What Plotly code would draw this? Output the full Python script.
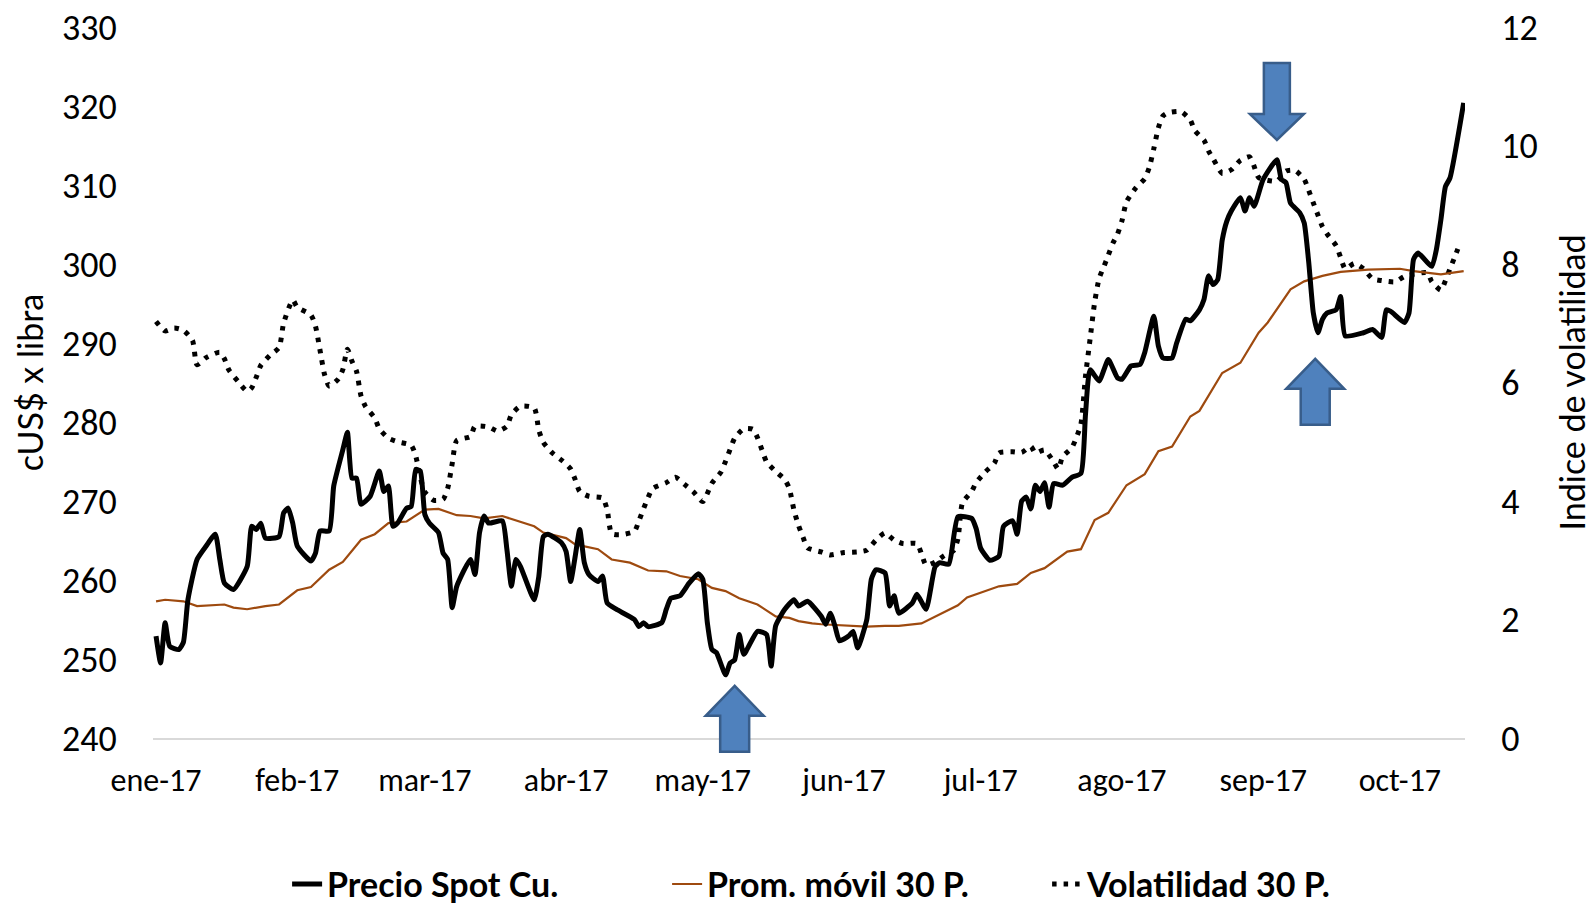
import plotly.graph_objects as go

# Precio spot del cobre (cUS$ por libra), 2017
precio_fechas = ["2017-" + d for d in """
01-02 01-03 01-04 01-05 01-07 01-08 01-09 01-11 01-13 01-15 01-16 01-17 01-19 01-22 01-23 01-24 01-25 01-26 01-29 01-30
01-31 02-01 02-02 02-05 02-06 02-07 02-09 02-10 02-12 02-13 02-14 02-15 02-16 02-18 02-20 02-21 02-22 02-23 02-24 02-26
02-27 02-28 03-01 03-02 03-03 03-05 03-06 03-07 03-08 03-09 03-12 03-13 03-14 03-15 03-16 03-19 03-20 03-21 03-22 03-23
03-26 03-27 03-28 03-29 04-01 04-02 04-03 04-04 04-05 04-06 04-07 04-09 04-10 04-11 04-13 04-17 04-18 04-19 04-20 04-23
04-24 04-25 04-27 04-29 05-01 05-02 05-03 05-04 05-05 05-07 05-08 05-09 05-10 05-11 05-14 05-16 05-17 05-18 05-20 05-22
05-23 05-25 05-28 05-29 05-30 05-31 06-01 06-03 06-04 06-05 06-07 06-08 06-09 06-11 06-12 06-13 06-14 06-17 06-18 06-20
06-22 06-23 06-25 06-27 06-30 07-01 07-02 07-04 07-06 07-07 07-09 07-10 07-11 07-12 07-13 07-14 07-15 07-16 07-17 07-18
07-20 07-22 07-24 07-25 07-26 07-28 07-30 08-01 08-02 08-04 08-06 08-07 08-09 08-10 08-11 08-13 08-14 08-16 08-17 08-19
08-20 08-21 08-22 08-23 08-24 08-25 08-26 08-28 08-29 08-30 08-31 09-02 09-05 09-06 09-07 09-08 09-10 09-11 09-12 09-13
09-14 09-15 09-16 09-18 09-19 09-20 09-24 09-26 09-28 09-29 09-30 10-03 10-04 10-05 10-06 10-09 10-10 10-11 10-12 10-13
10-16""".split()]
precio = [
    252.9, 249.5, 254.6, 251.6, 251.2, 252.1, 257.5, 262.6, 264.3, 265.8, 262.6, 259.6, 258.8, 261.7, 266.8, 266.4, 267.2, 265.3, 265.5, 268.5,
    269.1, 267.2, 264.3, 262.4, 263.4, 266.2, 266.2, 271.9, 276.5, 278.7, 272.9, 272.9, 269.6, 270.6, 273.8, 271.2, 271.9, 266.8, 267.2, 269.1,
    269.3, 274.0, 273.8, 268.3, 267.2, 266.0, 263.4, 262.6, 256.5, 259.2, 262.6, 260.7, 266.0, 268.1, 267.2, 267.5, 263.9, 259.2, 262.6, 261.7,
    257.5, 260.4, 265.5, 265.8, 264.7, 263.6, 259.8, 263.0, 266.4, 262.2, 260.7, 259.8, 260.5, 257.1, 256.3, 255.0, 254.1, 254.6, 254.1, 254.6,
    256.3, 257.7, 258.0, 259.6, 260.8, 260.1, 254.6, 251.2, 250.8, 248.0, 249.5, 249.9, 253.1, 250.6, 253.5, 253.1, 249.1, 254.2, 256.3, 257.5,
    256.7, 257.3, 255.4, 254.4, 255.8, 254.2, 252.3, 252.9, 253.5, 251.4, 255.0, 260.1, 261.3, 260.9, 256.7, 258.0, 255.8, 257.1, 258.2, 256.3,
    261.7, 262.2, 262.0, 268.0, 267.8, 266.5, 264.0, 262.5, 263.0, 266.8, 267.5, 265.8, 270.0, 270.5, 269.0, 272.0, 271.2, 272.3, 269.2, 272.2,
    272.0, 273.0, 273.5, 281.0, 286.6, 285.2, 287.9, 285.6, 285.4, 287.1, 287.3, 288.8, 293.4, 289.6, 288.1, 288.1, 290.0, 293.0, 292.8, 294.2,
    295.5, 298.5, 297.4, 298.0, 303.0, 305.4, 306.7, 308.4, 306.7, 308.4, 307.3, 310.7, 313.2, 310.7, 310.3, 307.7, 306.5, 305.2, 300.2, 293.8,
    291.3, 293.0, 293.8, 294.2, 295.9, 290.9, 291.3, 291.7, 290.7, 294.2, 294.0, 292.6, 293.8, 300.6, 301.4, 299.7, 301.8, 305.6, 309.8, 310.9,
    320.4,
]

# Promedio movil 30 periodos
prom_fechas = ["2017-" + d for d in """
01-02 01-04 01-08 01-11 01-17 01-19 01-22 01-26 01-29 02-02 02-05 02-09 02-12 02-16 02-19 02-22 02-26 03-02 03-05 03-09
03-12 03-15 03-19 03-23 03-26 03-28 04-02 04-04 04-09 04-12 04-16 04-20 04-24 04-27 05-01 05-04 05-07 05-10 05-14 05-18
05-21 05-23 05-26 05-28 06-04 06-07 06-11 06-14 06-19 06-23 06-27 06-29 07-06 07-10 07-13 07-16 07-21 07-24 07-27 07-30
08-03 08-07 08-10 08-13 08-17 08-19 08-24 08-28 09-01 09-03 09-08 09-11 09-15 09-19 09-25 10-02 10-05 10-11 10-16""".split()]
prom_movil = [
    257.3, 257.5, 257.3, 256.7, 256.9, 256.5, 256.3, 256.7, 256.9, 258.7, 259.1, 261.3, 262.3, 265.1, 265.8, 267.2, 267.4, 268.9, 269.0, 268.2,
    268.1, 267.8, 268.1, 267.4, 266.8, 266.0, 265.3, 264.5, 263.9, 262.6, 262.2, 261.2, 261.1, 260.5, 260.1, 259.0, 258.6, 257.7, 256.9, 255.4,
    255.2, 254.8, 254.5, 254.4, 254.2, 254.1, 254.2, 254.2, 254.5, 255.6, 256.8, 257.8, 259.2, 259.5, 260.9, 261.5, 263.6, 263.9, 267.6, 268.5,
    272.0, 273.4, 276.3, 276.9, 280.7, 281.4, 286.2, 287.5, 291.3, 292.6, 296.8, 297.8, 298.5, 299.0, 299.3, 299.4, 299.1, 298.7, 299.1,
]

# Volatilidad 30 periodos (eje derecho)
vol_fechas = ["2017-" + d for d in """
01-02 01-04 01-06 01-08 01-10 01-11 01-13 01-16 01-17 01-18 01-20 01-22 01-23 01-24 01-25 01-27 01-29 01-30 02-01 02-02
02-05 02-06 02-07 02-08 02-09 02-11 02-12 02-13 02-14 02-15 02-16 02-17 02-19 02-20 02-22 02-24 02-27 02-28 03-01 03-02
03-04 03-06 03-07 03-08 03-09 03-12 03-13 03-16 03-18 03-20 03-21 03-23 03-26 03-27 03-28 03-30 04-01 04-03 04-04 04-05
04-07 04-10 04-11 04-12 04-14 04-17 04-18 04-19 04-20 04-21 04-24 04-26 04-28 04-30 05-02 05-04 05-06 05-07 05-08 05-09
05-11 05-13 05-14 05-15 05-16 05-18 05-20 05-21 05-22 05-23 05-24 05-25 05-28 05-30 06-02 06-05 06-07 06-09 06-11 06-13
06-15 06-18 06-19 06-20 06-22 06-24 06-26 06-27 06-28 06-30 07-01 07-03 07-05 07-06 07-09 07-11 07-13 07-14 07-16 07-18
07-19 07-20 07-22 07-23 07-24 07-25 07-26 07-27 07-28 07-29 07-30 07-31 08-01 08-02 08-03 08-05 08-07 08-08 08-09 08-10
08-11 08-12 08-15 08-17 08-18 08-20 08-21 08-22 08-24 08-26 08-28 08-30 08-31 09-01 09-05 09-07 09-09 09-11 09-12 09-13
09-14 09-15 09-16 09-18 09-19 09-20 09-22 09-24 09-26 09-28 10-01 10-03 10-08 10-09 10-11 10-12 10-13 10-14 10-15""".split()]
volatilidad = [
    7.03, 6.87, 6.92, 6.88, 6.71, 6.30, 6.42, 6.51, 6.40, 6.21, 6.02, 5.85, 5.91, 6.09, 6.29, 6.46, 6.59, 7.00, 7.39, 7.27,
    7.14, 6.95, 6.54, 6.13, 5.94, 6.06, 6.22, 6.56, 6.36, 6.19, 5.77, 5.59, 5.40, 5.22, 5.06, 5.00, 4.94, 4.76, 4.40, 4.15,
    4.01, 4.03, 4.21, 4.63, 5.02, 5.09, 5.26, 5.25, 5.18, 5.26, 5.46, 5.60, 5.57, 5.20, 4.99, 4.81, 4.69, 4.54, 4.36, 4.16,
    4.08, 4.05, 3.86, 3.45, 3.43, 3.49, 3.67, 3.87, 4.06, 4.21, 4.31, 4.40, 4.28, 4.15, 3.99, 4.30, 4.49, 4.67, 4.87, 5.06,
    5.22, 5.21, 5.07, 4.86, 4.66, 4.50, 4.36, 4.21, 3.85, 3.59, 3.39, 3.21, 3.14, 3.09, 3.13, 3.14, 3.17, 3.34, 3.46, 3.34,
    3.28, 3.28, 3.11, 2.92, 2.97, 3.08, 3.16, 3.36, 3.97, 4.16, 4.31, 4.49, 4.64, 4.81, 4.83, 4.82, 4.92, 4.81, 4.86, 4.66,
    4.54, 4.75, 4.90, 5.07, 5.30, 6.11, 6.73, 7.35, 7.76, 7.95, 8.15, 8.35, 8.50, 8.73, 9.05, 9.28, 9.44, 9.63, 9.95, 10.30,
    10.50, 10.55, 10.57, 10.43, 10.25, 10.09, 9.91, 9.78, 9.53, 9.59, 9.75, 9.81, 9.65, 9.46, 9.40, 9.57, 9.58, 9.43, 9.24, 9.03,
    8.83, 8.63, 8.51, 8.31, 8.11, 7.92, 8.01, 7.92, 7.75, 7.72, 7.70, 7.79, 7.85, 7.70, 7.56, 7.72, 7.92, 8.11, 8.31,
]

mes_ticks = ["2017-01-02", "2017-02-02", "2017-03-02", "2017-04-02", "2017-05-02",
             "2017-06-02", "2017-07-02", "2017-08-02", "2017-09-02", "2017-10-02"]
mes_etiquetas = ["ene-17", "feb-17", "mar-17", "abr-17", "may-17",
                 "jun-17", "jul-17", "ago-17", "sep-17", "oct-17"]

# flechas: punta en (fecha, cUS$ x libra)
flecha_fechas = ["2017-05-09", "2017-09-05", "2017-09-13 10:00"]
flecha_valores = [246.6, 315.7, 288.0]
flecha_sentido = ["arriba", "abajo", "arriba"]

Y_MIN, Y_MAX = 240, 330

TICK_FONT = "Carlito, Calibri, Lato, sans-serif"
NARROW_FONT = "Liberation Sans Narrow, Arial Narrow, Lato, sans-serif"

fig = go.Figure()

fig.add_scatter(x=vol_fechas, y=volatilidad, name="Volatilidad 30 P.", yaxis="y",
                mode="lines", line=dict(color="black", width=5, dash="4.5px,7px",
                                        shape="spline", smoothing=0.6),
                legendrank=3)
fig.add_scatter(x=prom_fechas, y=prom_movil, name="Prom. móvil 30 P.", yaxis="y2",
                mode="lines", line=dict(color="#9E4A0F", width=2.2),
                legendrank=2)
fig.add_scatter(x=precio_fechas, y=precio, name="Precio Spot Cu.", yaxis="y2",
                mode="lines", line=dict(color="black", width=5, shape="spline", smoothing=0.5),
                legendrank=1)


def flecha_path(sentido):
    # block arrow, pixels relative to the tip (y positive up)
    if sentido == "abajo":
        pts = [(0, 0), (-27, 26), (-13, 26), (-13, 77), (13, 77), (13, 26), (27, 26)]
    else:
        pts = [(0, 0), (-29, -30), (-14.5, -30), (-14.5, -66), (14.5, -66), (14.5, -30), (29, -30)]
    return "M" + " L".join(f"{x},{y}" for x, y in pts) + " Z"


for f, v, s in zip(flecha_fechas, flecha_valores, flecha_sentido):
    fig.add_shape(type="path", xref="x", yref="paper",
                  xsizemode="pixel", ysizemode="pixel",
                  xanchor=f, yanchor=(v - Y_MIN) / (Y_MAX - Y_MIN),
                  path=flecha_path(s),
                  fillcolor="#4F81BD", line=dict(color="#385D8A", width=2.5),
                  layer="above")

fig.update_layout(
    width=1595, height=908, autosize=False,
    margin=dict(l=153, r=130, t=27, b=170, autoexpand=False),
    plot_bgcolor="white", paper_bgcolor="white",
    showlegend=True,
    legend=dict(orientation="h", xref="container", x=0.18, xanchor="left",
                yref="container", y=0.026, yanchor="middle",
                entrywidth=335, entrywidthmode="pixels",
                font=dict(family=NARROW_FONT, size=34, color="black", weight="bold"),
                traceorder="normal"),
    xaxis=dict(type="date", range=["2017-01-01 08:00", "2017-10-16 07:00"],
               tickmode="array", tickvals=mes_ticks, ticktext=mes_etiquetas,
               showgrid=False, zeroline=False, showline=True, linecolor="#D9D9D9", linewidth=1.5,
               ticks="outside", ticklen=13, tickcolor="rgba(0,0,0,0)",
               tickfont=dict(family=TICK_FONT, size=32, color="black"),
               automargin=False),
    yaxis=dict(side="right", range=[0, 12], dtick=2, showgrid=False, zeroline=False,
               ticks="outside", ticklen=28, tickcolor="rgba(0,0,0,0)",
               tickfont=dict(family=TICK_FONT, size=36, color="black"),
               title=dict(text="Indice de volatilidad", standoff=24,
                          font=dict(family=NARROW_FONT, size=34, color="black")),
               automargin=False),
    yaxis2=dict(overlaying="y", side="left", range=[Y_MIN, Y_MAX], dtick=10,
                showgrid=False, zeroline=False,
                ticks="outside", ticklen=28, tickcolor="rgba(0,0,0,0)",
                tickfont=dict(family=TICK_FONT, size=36, color="black"),
                title=dict(text="cUS$ x libra", standoff=8,
                           font=dict(family=NARROW_FONT, size=34, color="black")),
                automargin=False),
)

fig.write_html("out.html", config={"displayModeBar": False},
               post_script="document.body.style.margin = '0';")
